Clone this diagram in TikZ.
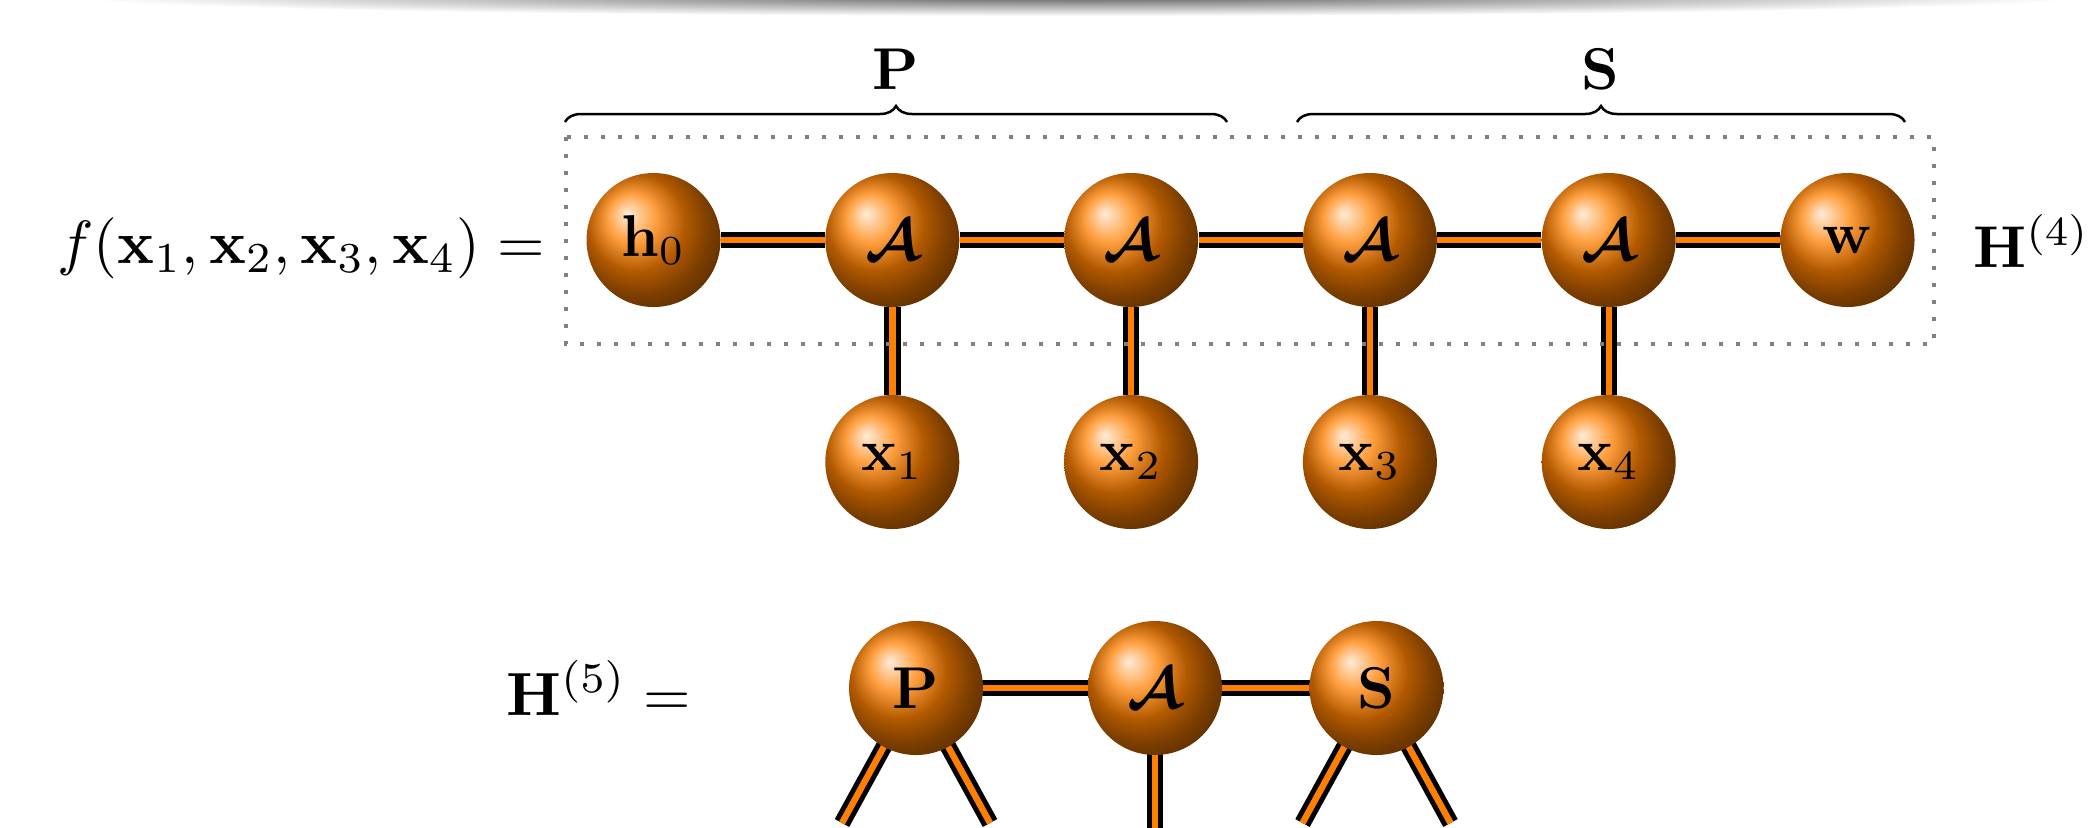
\documentclass[tikz,border=0pt]{standalone}
\usepackage{amsmath}
\usepackage{bm}
\usetikzlibrary{backgrounds,decorations.pathreplacing}
\pgfdeclareradialshading{topshadow}{\pgfpoint{0bp}{0bp}}{color(0bp)=(black!65); color(10bp)=(black!38); color(25bp)=(white); color(50bp)=(white)}
\newcommand{\sclbl}[1]{\scalebox{2.95}{#1}}
\newcommand{\sceq}[1]{\scalebox{3.05}{#1}}
\tikzset{
  ballnode/.style={circle, ball color=orange, minimum size=67pt, inner sep=0pt},
  wire/.style={line width=2.5pt, double=orange, double distance=3.2pt},
  lbl/.style={inner sep=0pt},
  bracestyle/.style={decorate, decoration={brace, amplitude=8pt}, line width=1.25pt},
  dotbox/.style={gray, line width=2pt, dash pattern=on 2pt off 6.5pt}
}
\begin{document}
\begin{tikzpicture}[x=0.5pt, y=-0.5pt]
\useasboundingbox (0,0) rectangle (2099,827);
\begin{scope}
  \clip (0,0) rectangle (2099,827);
  \shade[shading=topshadow] (1080,-4) ellipse [x radius=1010, y radius=20];
\end{scope}

% top row
\node[ballnode] (h0) at (653.5,240) {\sclbl{$\mathbf{h}_0$}};
\node[ballnode] (a1) at (892.3,240) {\sclbl{$\bm{\mathcal{A}}$}};
\node[ballnode] (a2) at (1131.1,240) {\sclbl{$\bm{\mathcal{A}}$}};
\node[ballnode] (a3) at (1369.9,240) {\sclbl{$\bm{\mathcal{A}}$}};
\node[ballnode] (a4) at (1608.7,240) {\sclbl{$\bm{\mathcal{A}}$}};
\node[ballnode] (w) at (1847.5,240) {\sclbl{$\mathbf{w}$}};
\node[ballnode] (x1) at (892.3,462) {\sclbl{$\mathbf{x}_1$}};
\node[ballnode] (x2) at (1131.1,462) {\sclbl{$\mathbf{x}_2$}};
\node[ballnode] (x3) at (1369.9,462) {\sclbl{$\mathbf{x}_3$}};
\node[ballnode] (x4) at (1608.7,462) {\sclbl{$\mathbf{x}_4$}};

% bottom row
\node[ballnode] (bp) at (916,688) {\sclbl{$\mathbf{P}$}};
\node[ballnode] (ba) at (1155,688) {\sclbl{$\bm{\mathcal{A}}$}};
\node[ballnode] (bs) at (1376.5,688) {\sclbl{$\mathbf{S}$}};
\coordinate (bpl) at (842,823);
\coordinate (bpr) at (990,823);
\coordinate (bad) at (1155,832);
\coordinate (bsl) at (1302.5,823);
\coordinate (bsr) at (1450.5,823);

\begin{scope}[on background layer]
  \draw[wire] (h0) -- (a1) -- (a2) -- (a3) -- (a4) -- (w);
  \draw[wire] (a1) -- (x1);
  \draw[wire] (a2) -- (x2);
  \draw[wire] (a3) -- (x3);
  \draw[wire] (a4) -- (x4);
  \draw[wire] (bp.center) -- (ba.center) -- (bs.center);
  \draw[wire] (bp.center) -- (bpl);
  \draw[wire] (bp.center) -- (bpr);
  \draw[wire] (ba.center) -- (bad);
  \draw[wire] (bs.center) -- (bsl);
  \draw[wire] (bs.center) -- (bsr);
\end{scope}

% dotted box
\coordinate (boxtl) at (566,137);
\coordinate (boxbr) at (1934,344);
\draw[dotbox] (boxtl) rectangle (boxbr);

% braces
\coordinate (pbl) at (565,122);
\coordinate (pbr) at (1227,122);
\coordinate (sbl) at (1297,122);
\coordinate (sbr) at (1905,122);
\draw[bracestyle] (pbl) -- (pbr);
\draw[bracestyle] (sbl) -- (sbr);
\node[lbl, anchor=base] (plabel) at (896,89) {\sclbl{$\mathbf{P}$}};
\node[lbl, anchor=base] (slabel) at (1600,89) {\sclbl{$\mathbf{S}$}};

% equations
\node[lbl, anchor=base east] (feq) at (545,263) {\sceq{$f(\mathbf{x}_1,\mathbf{x}_2,\mathbf{x}_3,\mathbf{x}_4) =$}};
\node[lbl, anchor=base west] (h4) at (1973,267) {\sclbl{$\mathbf{H}^{(4)}$}};
\node[lbl, anchor=base west] (h5) at (506,715) {\sceq{$\mathbf{H}^{(5)} =$}};
\end{tikzpicture}
\end{document}
